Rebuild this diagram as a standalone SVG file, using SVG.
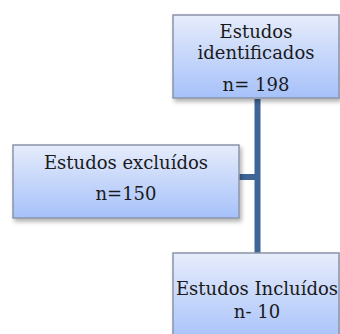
<svg xmlns="http://www.w3.org/2000/svg" width="340" height="334" viewBox="0 0 340 334">
<defs>
<linearGradient id="g" x1="0" y1="0" x2="0" y2="1">
<stop offset="0" stop-color="#e6ecfb"/>
<stop offset="1" stop-color="#a6c1fa"/>
</linearGradient>
<filter id="sh" x="-10%" y="-10%" width="130%" height="140%">
<feDropShadow dx="2" dy="3" stdDeviation="2" flood-color="#000" flood-opacity="0.3"/>
</filter>
<style>
.box{fill:url(#g);stroke:#8a94a8;stroke-width:1.5;filter:url(#sh)}
.t{font-family:"DejaVu Serif","Liberation Serif",serif;font-size:18px;fill:#1a1a1a;text-anchor:middle}
.c{fill:#3f6597}
</style>
</defs>
<g id="connectors">
<rect class="c" x="254.5" y="99" width="6" height="155"/>
<rect class="c" x="239" y="174" width="16" height="6"/>
</g>
<g id="n1">
<rect class="box" x="173" y="15" width="166" height="83"/>
<text class="t" x="256" y="38">Estudos</text>
<text class="t" x="256" y="59">identificados</text>
<text class="t" x="256" y="91">n= 198</text>
</g>
<g id="n2">
<rect class="box" x="13" y="145" width="226" height="73"/>
<text class="t" x="126" y="169">Estudos excluídos</text>
<text class="t" x="126" y="200">n=150</text>
</g>
<g id="n3">
<rect class="box" x="173" y="253" width="166" height="90"/>
<text class="t" x="257" y="295">Estudos Incluídos</text>
<text class="t" x="257" y="318">n- 10</text>
</g>
</svg>
